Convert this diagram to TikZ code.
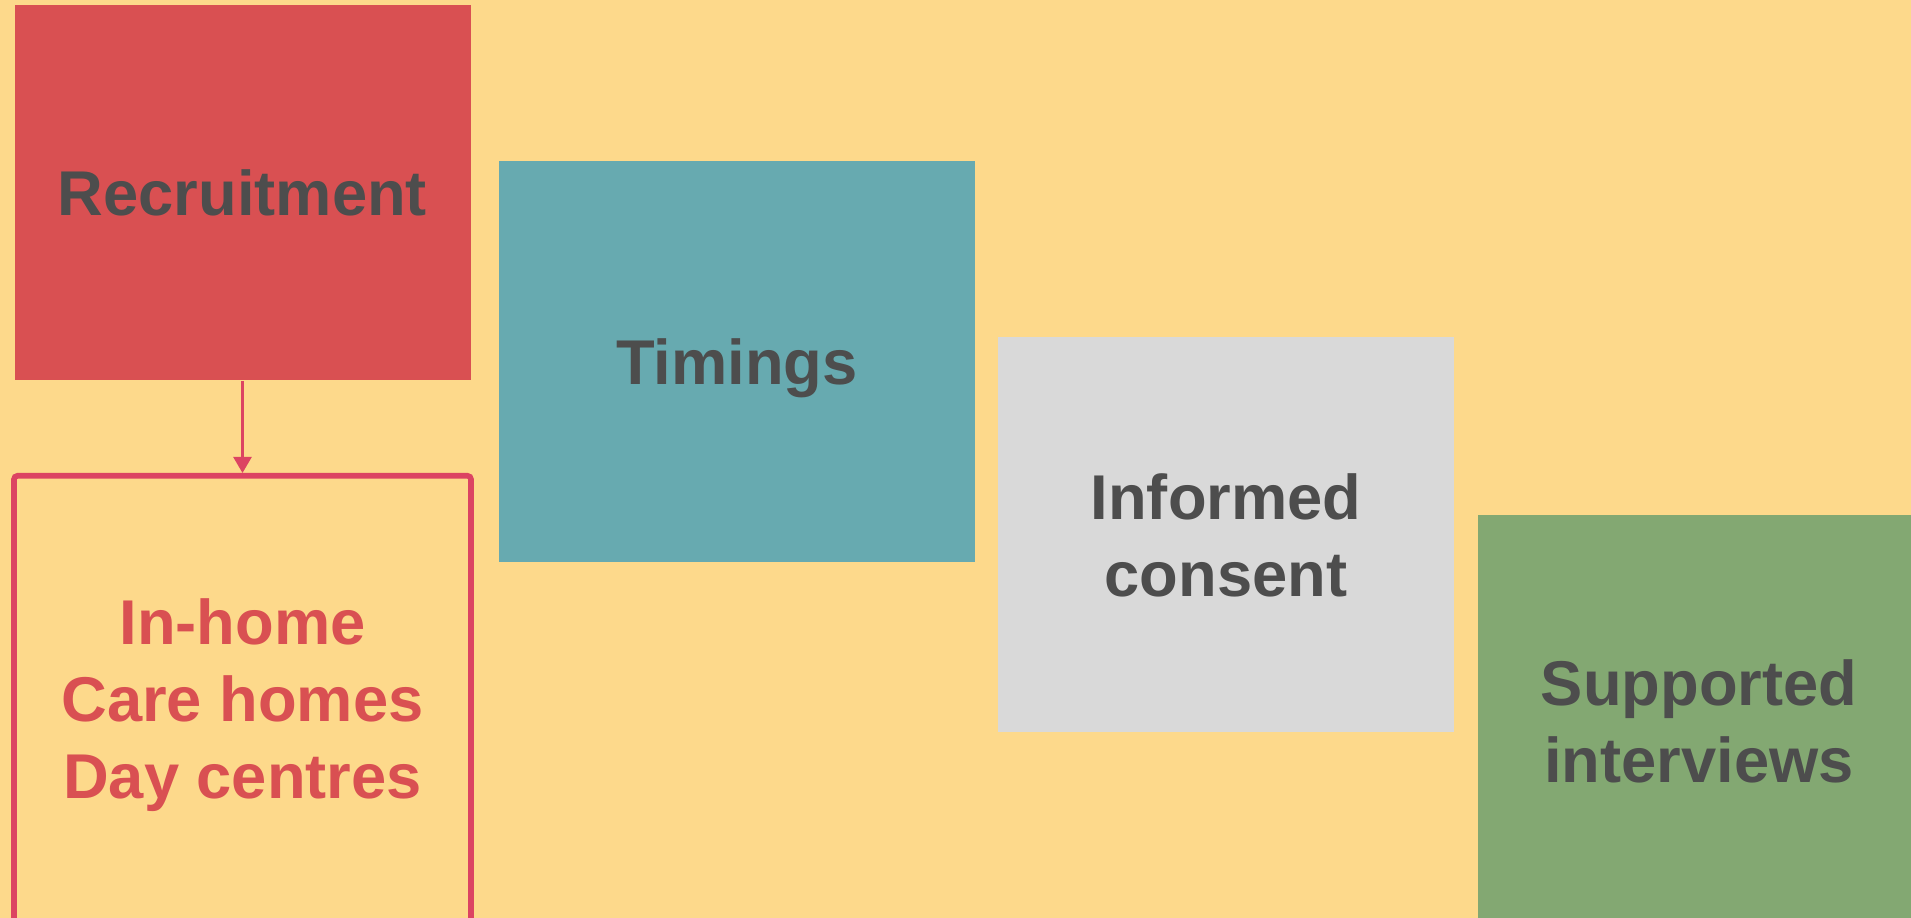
\documentclass[tikz,border=0pt]{standalone}
\usepackage{fontspec}
\setmainfont{Liberation Sans}
\usetikzlibrary{arrows.meta}
\definecolor{sand}{HTML}{FDD98B}
\definecolor{brick}{HTML}{D95052}
\definecolor{rose}{HTML}{DC4462}
\definecolor{teal}{HTML}{67AAB0}
\definecolor{silver}{HTML}{D9D9D9}
\definecolor{sage}{HTML}{83A872}
\definecolor{ink}{HTML}{4D4D4D}
\begin{document}
\begin{tikzpicture}[
  stage/.style={rectangle, inner sep=0pt, align=center, text=ink,
    font=\bfseries\fontsize{18}{21.9}\selectfont},
  place/.style={stage, text=brick}]
\useasboundingbox (0,0) rectangle (19.11,9.18);
\clip (0,0) rectangle (19.11,9.18);
\fill [sand] (0,0) rectangle (19.11,9.18);
\node [stage, fill=brick, minimum width=4.56cm, minimum height=3.754cm] (recruit) at (2.425,7.254) {Recruitment};
\node [stage, fill=teal, text depth=0pt, minimum width=4.765cm, minimum height=4.01cm] (timing) at (7.3675,5.565) {Timings};
\node [stage, fill=silver, minimum width=4.56cm, minimum height=3.95cm] (consent) at (12.26,3.83) {Informed\\consent};
\node [stage, fill=sage, minimum width=4.42cm, minimum height=4.11cm] (interview) at (16.99,1.97) {Supported\\interviews};
\node [place, draw=rose, line width=1.6pt, rounded corners=1pt, minimum width=4.57cm, minimum height=4.8cm, anchor=north] (settings) at (2.425,4.45) {};
\node [place] (where) at (2.425,2.13) {In-home\\Care homes\\Day centres};
\draw [rose, line width=0.7pt, -{Triangle[length=0.16cm, width=0.18cm]}] (recruit.south) -- (settings.north);
\end{tikzpicture}
\end{document}
